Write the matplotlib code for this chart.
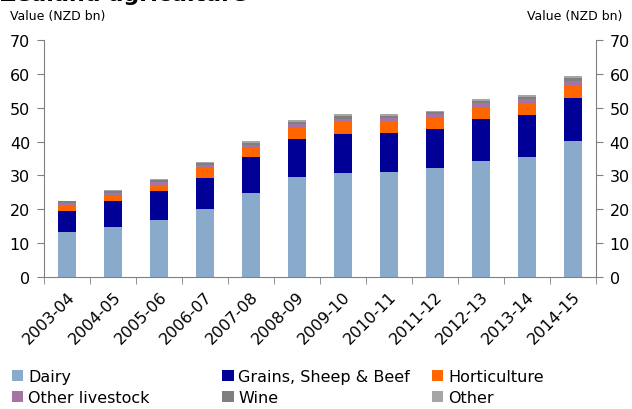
import matplotlib
matplotlib.use("Agg")
import matplotlib.pyplot as plt
import numpy as np
from matplotlib.patches import Patch
from matplotlib.ticker import FixedLocator

plt.rcParams['font.family'] = ['DejaVu Sans']

# Value of agricultural production by sector, NZD bn
years = ['2003-04', '2004-05', '2005-06', '2006-07', '2007-08', '2008-09',
         '2009-10', '2010-11', '2011-12', '2012-13', '2013-14', '2014-15']
dairy = [13.4, 14.9, 16.7, 20.1, 24.9, 29.6, 30.6, 31.1, 32.1, 34.2, 35.5, 40.3]
grains_sheep_beef = [6.2, 7.5, 8.6, 9.2, 10.4, 11.3, 11.5, 11.5, 11.5, 12.4, 12.3, 12.7]
horticulture = [1.8, 1.8, 2.0, 2.9, 3.0, 3.3, 3.6, 3.5, 3.3, 3.5, 3.5, 3.6]
other_livestock = [0.5, 0.7, 0.7, 0.9, 0.8, 1.0, 1.0, 1.0, 1.1, 1.2, 1.2, 1.2]
wine = [0.45, 0.4, 0.5, 0.5, 0.6, 0.7, 0.9, 0.5, 0.6, 0.7, 0.8, 0.9]
other = [0.15, 0.3, 0.3, 0.3, 0.6, 0.5, 0.4, 0.6, 0.4, 0.5, 0.5, 0.6]

series = [
    ('Dairy', dairy, '#8aaacb'),
    ('Grains, Sheep & Beef', grains_sheep_beef, '#000096'),
    ('Horticulture', horticulture, '#ff6600'),
    ('Other livestock', other_livestock, '#a574a4'),
    ('Wine', wine, '#7f7f7f'),
    ('Other', other, '#a6a6a6'),
]

fig = plt.figure(figsize=(6.32, 4.10), dpi=100)
ax = fig.add_axes([0.0696, 0.322, 0.873, 0.578])

x = np.arange(len(years))
bottom = np.zeros(len(years))
for name, vals, col in series:
    ax.bar(x, vals, width=0.4, bottom=bottom, color=col, label=name, zorder=2)
    bottom += np.array(vals)

ax.set_xlim(-0.5, len(years) - 0.5)
ax.set_ylim(0, 70)
ax.set_yticks(range(0, 71, 10))

# category labels on major ticks, tick marks between categories
ax.set_xticks(x)
ax.set_xticklabels(years, rotation=45, ha='right', rotation_mode='anchor', fontsize=11.5)
ax.xaxis.set_minor_locator(FixedLocator(np.arange(-0.5, len(years), 1.0)))
ax.tick_params(axis='x', which='major', length=0, pad=8)
ax.tick_params(axis='x', which='minor', length=5, direction='out', color='#808080')
ax.tick_params(axis='y', which='major', length=5, direction='out', color='#808080',
               labelsize=11.5, left=True, right=True, labelleft=True, labelright=True, pad=5)

for s in ['left', 'right', 'bottom']:
    ax.spines[s].set_color('#808080')
ax.spines['top'].set_visible(False)

fig.text(0.016, 0.96, 'Value (NZD bn)', fontsize=9, ha='left', va='center')
fig.text(0.984, 0.96, 'Value (NZD bn)', fontsize=9, ha='right', va='center')
fig.text(0.0, 0.997, 'Zealand agriculture', fontsize=16, fontweight='bold',
         ha='left', va='baseline')

# legend laid out as a 3 x 2 grid
cols = [(0.019, [0, 3]), (0.352, [1, 4]), (0.684, [2, 5])]
for xpos, idx in cols:
    handles = [Patch(facecolor=series[i][2], edgecolor='none') for i in idx]
    labels = [series[i][0] for i in idx]
    fig.legend(handles, labels, loc='upper left', bbox_to_anchor=(xpos, 0.098),
               frameon=False, fontsize=11.5, handlelength=0.7, handleheight=0.7,
               handletextpad=0.3, labelspacing=0.38, borderaxespad=0, borderpad=0)

fig.savefig('out.png', dpi=100)
